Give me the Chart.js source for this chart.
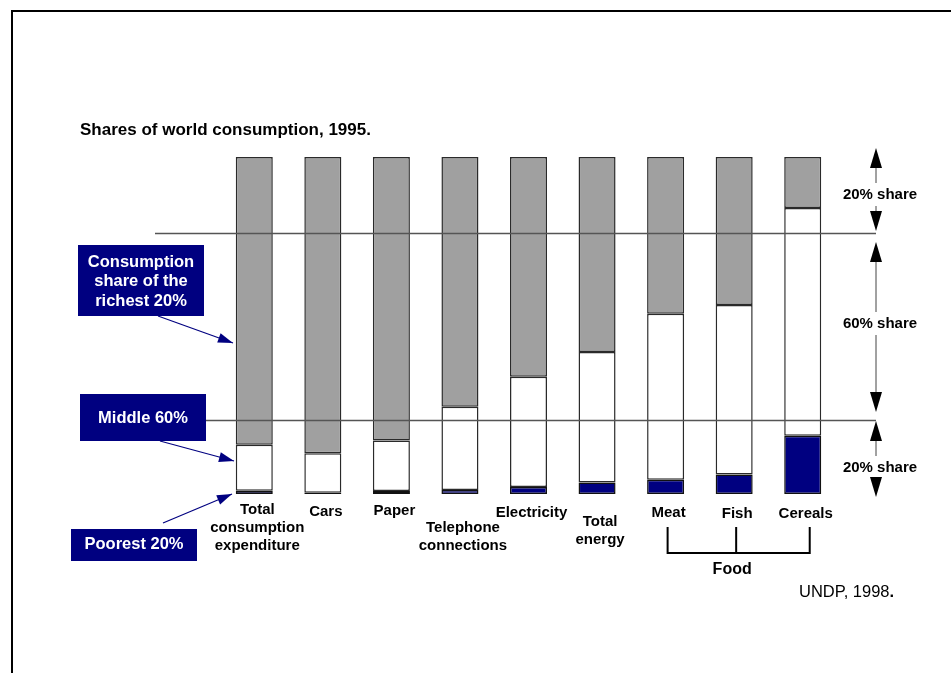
<!DOCTYPE html>
<html>
<head>
<meta charset="utf-8">
<script src="https://cdn.jsdelivr.net/npm/chart.js@4.4.1/dist/chart.umd.min.js"></script>
<style>
    html, body { margin: 0; padding: 0; background: #fff; }
    #wrap { width: 951px; height: 673px; }
</style>
</head>
<body>
<div id="wrap"><canvas id="consumption-chart" width="951" height="673"></canvas></div>
<script>
// shares of world consumption, 1995 (percent of each category)
const categories = [
    ['Total', 'consumption', 'expenditure'],
    ['Cars'],
    ['Paper'],
    ['Telephone', 'connections'],
    ['Electricity'],
    ['Total', 'energy'],
    ['Meat'],
    ['Fish'],
    ['Cereals'],
];
const poorest = [1.0, 0.4, 0.9, 1.2, 2.1, 3.4, 4.2, 5.8, 17.3];
const middle = [13.6, 11.7, 15.0, 24.7, 32.7, 38.7, 49.3, 50.3, 67.6];
const richest = [85.4, 87.9, 84.1, 74.1, 65.2, 57.9, 46.5, 43.9, 15.1];
const shareLabels = ['20% share', '60% share', '20% share'];
const groupLabel = 'Food';
const groupMembers = [6, 7, 8];

// layout only: y of the first line of each category label
const labelY = [510, 512, 511, 528, 513, 522, 513, 514, 514];

const FONT = '"Liberation Sans", Arial, Helvetica, sans-serif';
const NAVY = '#000080';

function head(ctx, x1, y1, x2, y2, len, half) {
    const a = Math.atan2(y2 - y1, x2 - x1);
    const bx = x2 - len * Math.cos(a);
    const by = y2 - len * Math.sin(a);
    ctx.beginPath();
    ctx.moveTo(x2, y2);
    ctx.lineTo(bx + half * Math.sin(a), by - half * Math.cos(a));
    ctx.lineTo(bx - half * Math.sin(a), by + half * Math.cos(a));
    ctx.closePath();
    ctx.fill();
}

function pointer(ctx, x1, y1, x2, y2) {
    ctx.strokeStyle = NAVY;
    ctx.fillStyle = NAVY;
    ctx.lineWidth = 1.2;
    ctx.beginPath();
    ctx.moveTo(x1, y1);
    ctx.lineTo(x2, y2);
    ctx.stroke();
    head(ctx, x1, y1, x2, y2, 15, 5);
}

function box(ctx, x, y, w, h, lines, lineY) {
    ctx.fillStyle = NAVY;
    ctx.fillRect(x, y, w, h);
    ctx.fillStyle = '#fff';
    ctx.font = 'bold 16.5px ' + FONT;
    ctx.textAlign = 'center';
    ctx.textBaseline = 'middle';
    lines.forEach((t, i) => ctx.fillText(t, x + w / 2, lineY[i]));
}

function span(ctx, x, top, bottom, textY, text) {
    ctx.strokeStyle = '#444';
    ctx.lineWidth = 1;
    ctx.beginPath();
    ctx.moveTo(x, top + 16);
    ctx.lineTo(x, textY - 12);
    ctx.moveTo(x, textY + 11);
    ctx.lineTo(x, bottom - 16);
    ctx.stroke();
    ctx.fillStyle = '#000';
    head(ctx, x, top + 20, x, top, 20, 6);
    head(ctx, x, bottom - 20, x, bottom, 20, 6);
    ctx.font = 'bold 15px ' + FONT;
    ctx.textAlign = 'center';
    ctx.textBaseline = 'middle';
    ctx.fillText(text, x + 4, textY);
}

const overlay = {
    id: 'overlay',
    afterDraw(chart) {
        const ctx = chart.ctx;
        const xs = chart.scales.x;
        ctx.save();

        // frame
        ctx.strokeStyle = '#000';
        ctx.lineWidth = 2;
        ctx.strokeRect(12, 11, 1200, 1000);

        // title
        ctx.fillStyle = '#000';
        ctx.font = 'bold 17px ' + FONT;
        ctx.textAlign = 'left';
        ctx.textBaseline = 'middle';
        ctx.fillText('Shares of world consumption, 1995.', 80, 130);

        // guide lines for the 20/60/20 split
        ctx.strokeStyle = '#555';
        ctx.lineWidth = 1.5;
        ctx.beginPath();
        ctx.moveTo(155, 233.5);
        ctx.lineTo(876, 233.5);
        ctx.moveTo(155, 420.5);
        ctx.lineTo(876, 420.5);
        ctx.stroke();

        // right hand spans
        span(ctx, 876, 148, 231, 195, shareLabels[0]);
        span(ctx, 876, 242, 412, 324, shareLabels[1]);
        span(ctx, 876, 421, 497, 468, shareLabels[2]);

        // category labels
        ctx.fillStyle = '#000';
        ctx.font = 'bold 15px ' + FONT;
        ctx.textAlign = 'center';
        ctx.textBaseline = 'middle';
        categories.forEach((lines, i) => {
            const cx = xs.getPixelForValue(i) + 3;
            lines.forEach((t, j) => ctx.fillText(t, cx, labelY[i] + j * 18));
        });

        // food bracket
        const gx = groupMembers.map(i => xs.getPixelForValue(i) + 2);
        gx[gx.length - 1] += 5;
        ctx.strokeStyle = '#000';
        ctx.lineWidth = 2;
        ctx.beginPath();
        gx.forEach(x => {
            ctx.moveTo(x, 527);
            ctx.lineTo(x, 553);
        });
        ctx.moveTo(gx[0] - 1, 553);
        ctx.lineTo(gx[gx.length - 1] + 1, 553);
        ctx.stroke();
        ctx.font = 'bold 16px ' + FONT;
        ctx.fillText(groupLabel, gx[1] - 4, 570);

        // source
        ctx.textAlign = 'left';
        ctx.font = '16.5px ' + FONT;
        ctx.fillText('UNDP, 1998', 799, 592);
        const w = ctx.measureText('UNDP, 1998').width;
        ctx.font = 'bold 16.5px ' + FONT;
        ctx.fillText('.', 799 + w, 592);

        // legend boxes and pointers
        box(ctx, 78, 245, 126, 71, ['Consumption', 'share of the', 'richest 20%'], [262, 281.5, 301]);
        box(ctx, 80, 394, 126, 47, ['Middle 60%'], [418]);
        box(ctx, 71, 529, 126, 32, ['Poorest 20%'], [544]);
        pointer(ctx, 158, 316, 233, 343);
        pointer(ctx, 160, 441, 234, 461);
        pointer(ctx, 163, 523, 232, 494);

        ctx.restore();
    }
};

const barStyle = {
    borderWidth: 1.5,
    borderSkipped: false,
    barPercentage: 0.54,
    categoryPercentage: 1.0,
};

new Chart(document.querySelector('#consumption-chart'), {
    type: 'bar',
    data: {
        labels: categories.map(c => c.join(' ')),
        datasets: [
            Object.assign({label: 'Poorest 20%', data: poorest, backgroundColor: NAVY, borderColor: '#111'}, barStyle),
            Object.assign({label: 'Middle 60%', data: middle, backgroundColor: '#ffffff', borderColor: '#2a2a2a'}, barStyle),
            Object.assign({label: 'Richest 20%', data: richest, backgroundColor: '#a0a0a0', borderColor: '#2a2a2a'}, barStyle),
        ],
    },
    options: {
        responsive: false,
        animation: false,
        layout: {padding: {left: 220, right: 114, top: 157, bottom: 179}},
        plugins: {legend: {display: false}, tooltip: {enabled: false}},
        scales: {
            x: {stacked: true, display: false},
            y: {stacked: true, display: false, min: 0, max: 100},
        },
    },
    plugins: [overlay],
});
</script>
</body>
</html>
